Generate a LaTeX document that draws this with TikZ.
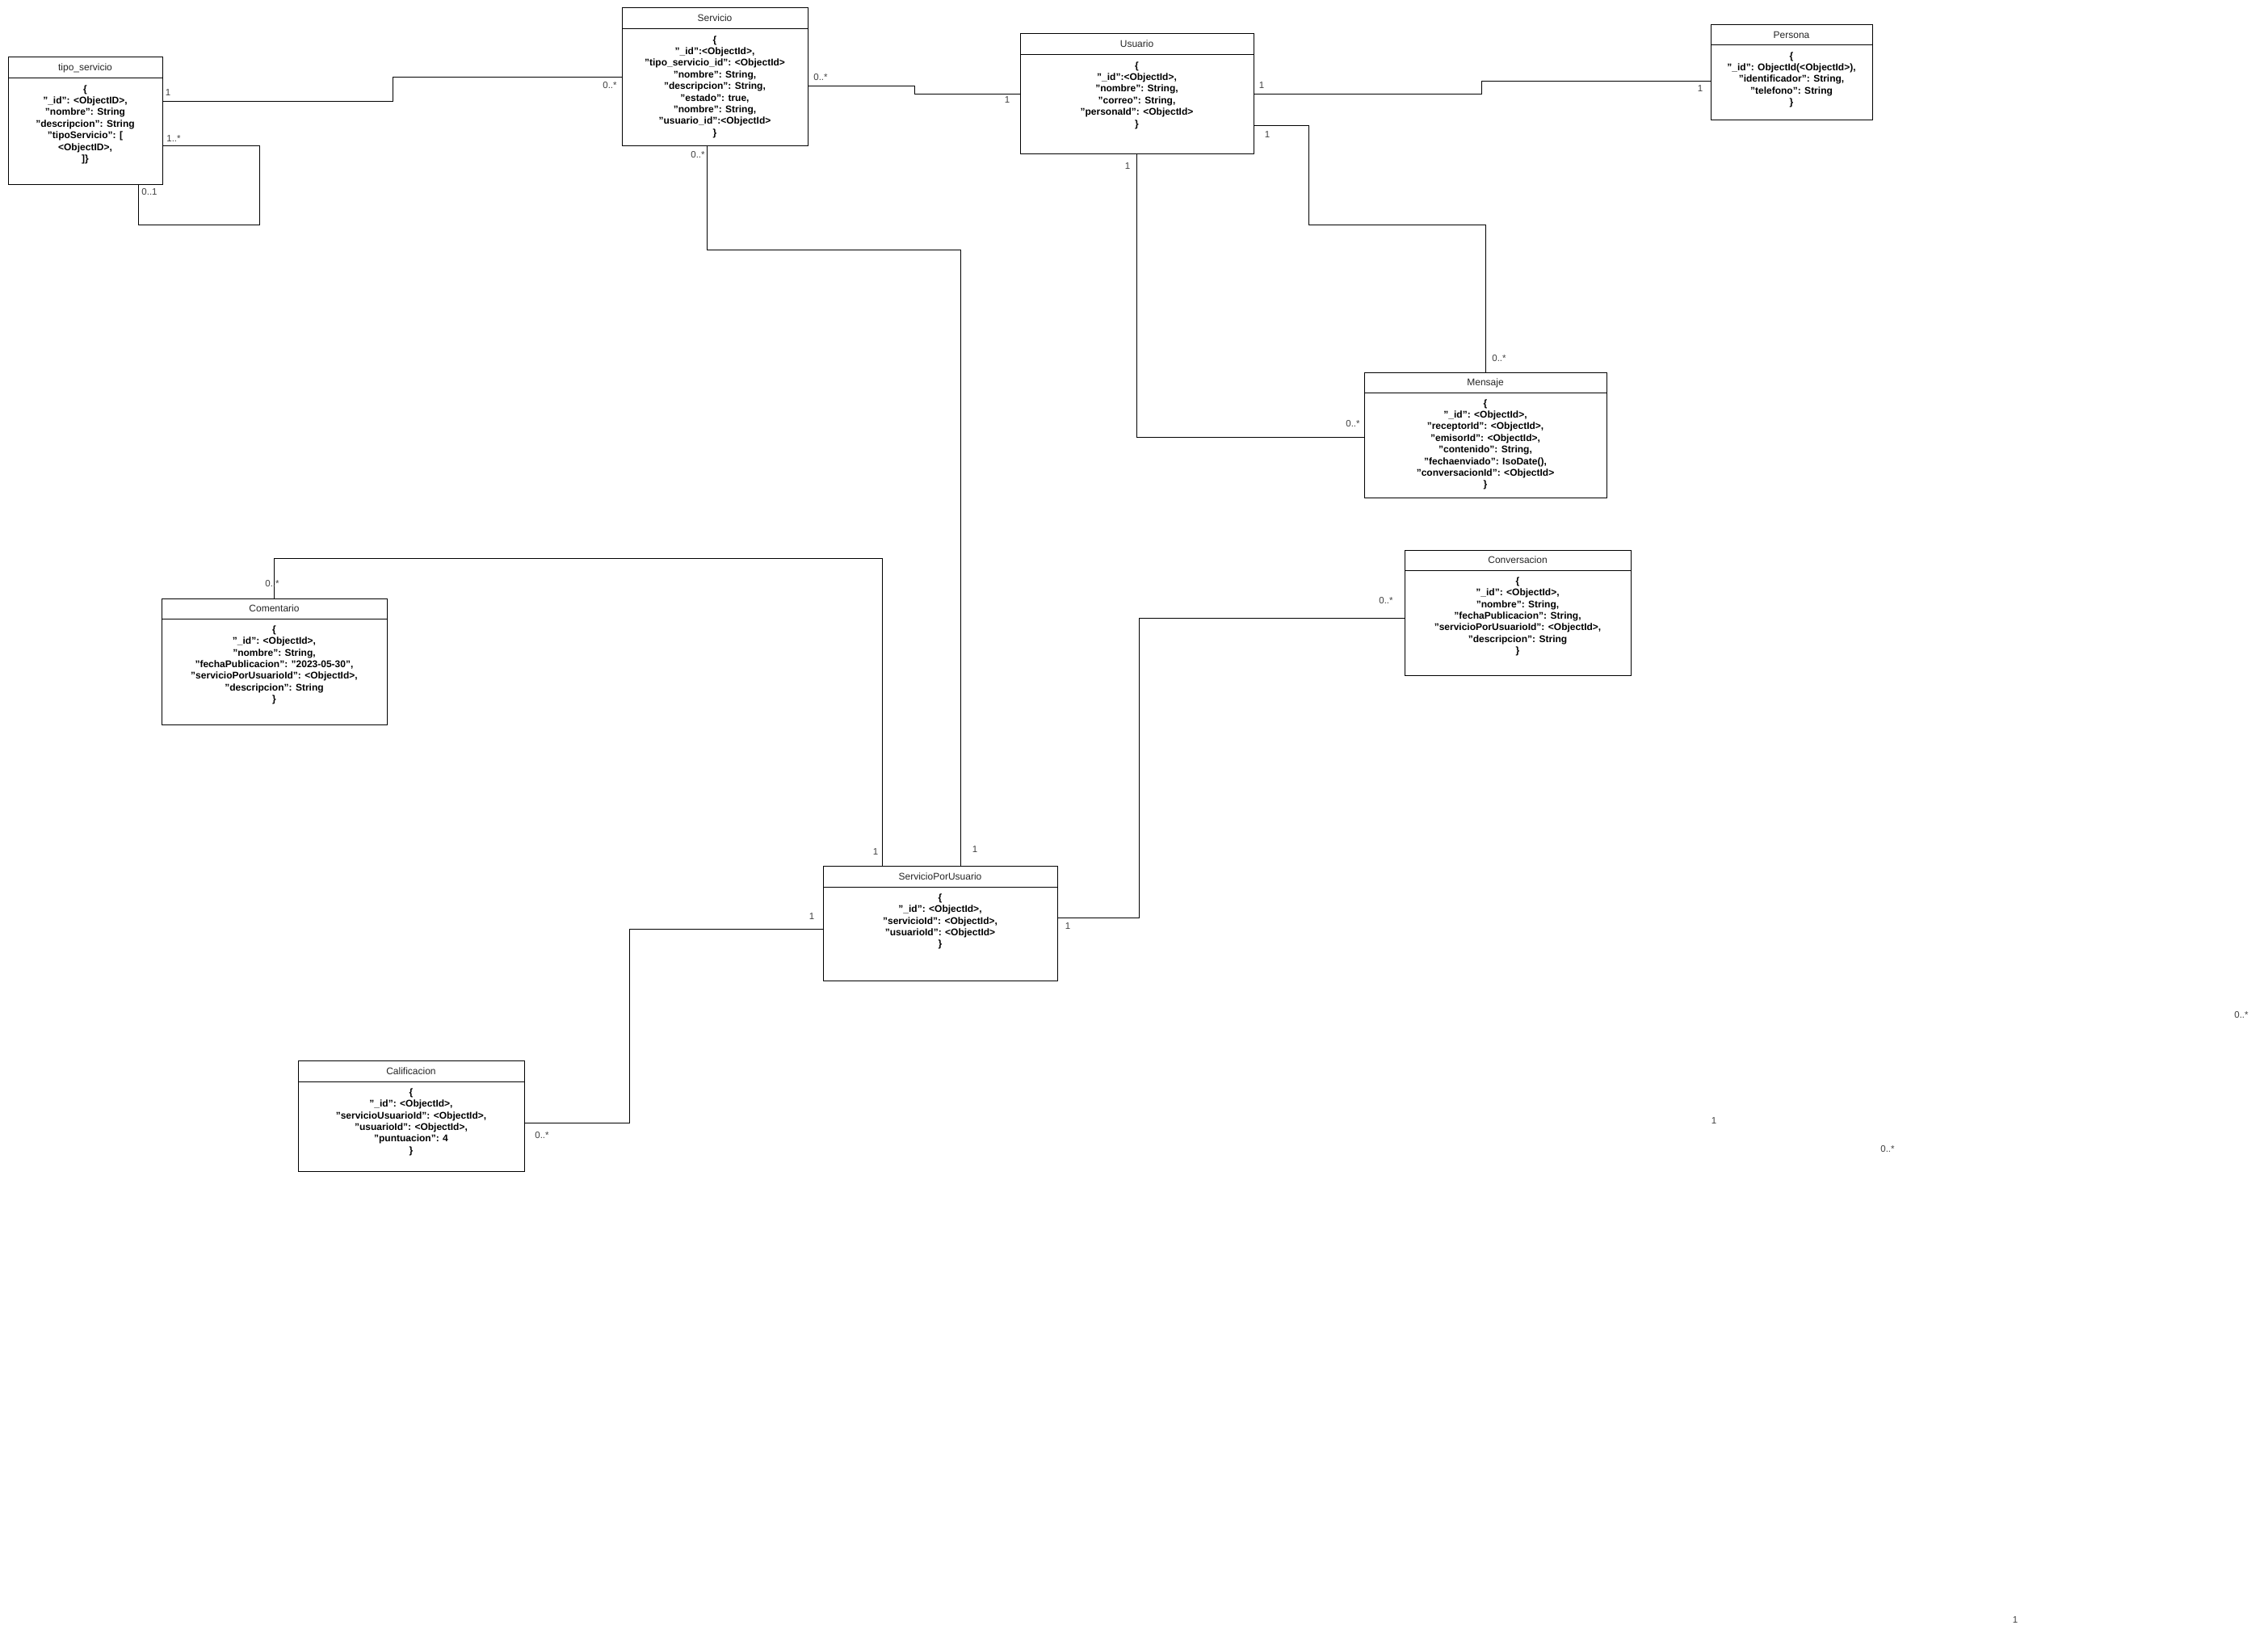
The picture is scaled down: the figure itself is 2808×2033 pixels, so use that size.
\documentclass[tikz,border=0pt]{standalone}
\usepackage{fontspec}
\setmainfont{Liberation Sans}
\usetikzlibrary{positioning}

\begin{document}
\begin{tikzpicture}[x=1pt, y=-1pt, node distance=0pt, line width=1pt,
		class head/.style={draw, rectangle, anchor=north west, outer sep=0pt, inner sep=0pt,
			font=\fontsize{12}{14.4}\selectfont, text=black!85, text height=8.6pt, text depth=0.6pt},
		class body/.style={draw, rectangle, outer sep=0pt, inner sep=0pt},
		class text/.style={align=center, inner sep=0pt, outer sep=0pt,
			font=\fontsize{12}{14.4}\selectfont\bfseries},
		mult/.style={font=\fontsize{11.5}{13}\selectfont, text=black!75, inner sep=0pt}]
		
		\path[use as bounding box, fill=white] (0,0) rectangle (2808,2033);
		
		\node[class head, minimum width=191pt, minimum height=26pt] (tipo) at (10,71) {tipo\_servicio};
		\node[class body, minimum width=191pt, minimum height=132pt, below=of tipo] (tipoB) {};
		\node[class text, below=8.5pt of tipo] (tipoT) {\{\\"\_id": <ObjectID>,\\"nombre": String\\"descripcion": String\\"tipoServicio": [\\<ObjectID>,\\]\}};
		
		\node[class head, minimum width=230pt, minimum height=26pt] (servicio) at (770,10) {Servicio};
		\node[class body, minimum width=230pt, minimum height=145pt, below=of servicio] (servicioB) {};
		\node[class text, below=8.5pt of servicio] (servicioT) {\{\\"\_id":<ObjectId>,\\"tipo\_servicio\_id": <ObjectId>\\"nombre": String,\\"descripcion": String,\\"estado": true,\\"nombre": String,\\"usuario\_id":<ObjectId>\\\}};
		
		\node[class head, minimum width=289pt, minimum height=26pt] (usuario) at (1263,42) {Usuario};
		\node[class body, minimum width=289pt, minimum height=123pt, below=of usuario] (usuarioB) {};
		\node[class text, below=8.5pt of usuario] (usuarioT) {\{\\"\_id":<ObjectId>,\\"nombre": String,\\"correo": String,\\"personaId": <ObjectId>\\\}};
		
		\node[class head, minimum width=200pt, minimum height=25pt] (persona) at (2118,31) {Persona};
		\node[class body, minimum width=200pt, minimum height=93pt, below=of persona] (personaB) {};
		\node[class text, below=8.5pt of persona] (personaT) {\{\\"\_id": ObjectId(<ObjectId>),\\"identificador": String,\\"telefono": String\\\}};
		
		\node[class head, minimum width=300pt, minimum height=25pt] (mensaje) at (1689,461) {Mensaje};
		\node[class body, minimum width=300pt, minimum height=130pt, below=of mensaje] (mensajeB) {};
		\node[class text, below=8.5pt of mensaje] (mensajeT) {\{\\"\_id": <ObjectId>,\\"receptorId": <ObjectId>,\\"emisorId": <ObjectId>,\\"contenido": String,\\"fechaenviado": IsoDate(),\\"conversacionId": <ObjectId>\\\}};
		
		\node[class head, minimum width=280pt, minimum height=25pt] (conversacion) at (1739,681) {Conversacion};
		\node[class body, minimum width=280pt, minimum height=130pt, below=of conversacion] (conversacionB) {};
		\node[class text, below=8.5pt of conversacion] (conversacionT) {\{\\"\_id": <ObjectId>,\\"nombre": String,\\"fechaPublicacion": String,\\"servicioPorUsuarioId": <ObjectId>,\\"descripcion": String\\\}};
		
		\node[class head, minimum width=279pt, minimum height=25pt] (comentario) at (200,741) {Comentario};
		\node[class body, minimum width=279pt, minimum height=131pt, below=of comentario] (comentarioB) {};
		\node[class text, below=8.5pt of comentario] (comentarioT) {\{\\"\_id": <ObjectId>,\\"nombre": String,\\"fechaPublicacion": "2023-05-30",\\"servicioPorUsuarioId": <ObjectId>,\\"descripcion": String\\\}};
		
		\node[class head, minimum width=290pt, minimum height=26pt] (spu) at (1019,1072) {ServicioPorUsuario};
		\node[class body, minimum width=290pt, minimum height=116pt, below=of spu] (spuB) {};
		\node[class text, below=8.5pt of spu] (spuT) {\{\\"\_id": <ObjectId>,\\"servicioId": <ObjectId>,\\"usuarioId": <ObjectId>\\\}};
		
		\node[class head, minimum width=280pt, minimum height=26pt] (calificacion) at (369,1313) {Calificacion};
		\node[class body, minimum width=280pt, minimum height=111pt, below=of calificacion] (calificacionB) {};
		\node[class text, below=8.5pt of calificacion] (calificacionT) {\{\\"\_id": <ObjectId>,\\"servicioUsuarioId": <ObjectId>,\\"usuarioId": <ObjectId>,\\"puntuacion": 4\\\}};
		
		% connectors
		\draw (tipoB.east |- 0,126) -| (486,96) -- (servicioB.west |- 0,96);
		\draw (tipoB.east |- 0,181) -| (321,279) -| (tipoB.south -| 171,0);
		\draw (servicioB.east |- 0,107) -| (1132,117) -- (usuarioB.west |- 0,117);
		\draw (usuarioB.east |- 0,117) -| (1834,101) -- (personaB.west |- 0,101);
		\draw (usuarioB.east |- 0,156) -| (1620,279) -| (mensaje.north);
		\draw (usuarioB.south) |- (mensajeB.west |- 0,541);
		\draw (servicioB.south -| 875,0) |- (1189,310) -- (spu.north -| 1189,0) -- (spu.north -| 1164,0);
		\draw (comentario.north) |- (1092,691) -- (spu.north -| 1092,0);
		\draw (spuB.east |- 0,1136) -| (1410,765) -- (conversacionB.west |- 0,765);
		\draw (calificacionB.east |- 0,1390) -| (779,1150) -- (spuB.west |- 0,1150);
		
		% multiplicities
		\node[mult] (m1) at (208,115) {1};
		\node[mult] (m2) at (755,106) {0..*};
		\node[mult] (m3) at (215,172) {1..*};
		\node[mult] (m4) at (185,238) {0..1};
		\node[mult] (m5) at (1016,96) {0..*};
		\node[mult] (m6) at (1247,124) {1};
		\node[mult] (m7) at (864,192) {0..*};
		\node[mult] (m8) at (1562,106) {1};
		\node[mult] (m9) at (2105,110) {1};
		\node[mult] (m10) at (1569,167) {1};
		\node[mult] (m11) at (1856,444) {0..*};
		\node[mult] (m12) at (1396,206) {1};
		\node[mult] (m13) at (1675,525) {0..*};
		\node[mult] (m14) at (1716,744) {0..*};
		\node[mult] (m15) at (337,723) {0..*};
		\node[mult] (m16) at (1084,1055) {1};
		\node[mult] (m17) at (1207,1052) {1};
		\node[mult] (m18) at (1005,1135) {1};
		\node[mult] (m19) at (1322,1147) {1};
		\node[mult] (m20) at (671,1406) {0..*};
		\node[mult] (m21) at (2775,1257) {0..*};
		\node[mult] (m22) at (2122,1388) {1};
		\node[mult] (m23) at (2337,1423) {0..*};
		\node[mult] (m24) at (2495,2006) {1};
\end{tikzpicture}
\end{document}
